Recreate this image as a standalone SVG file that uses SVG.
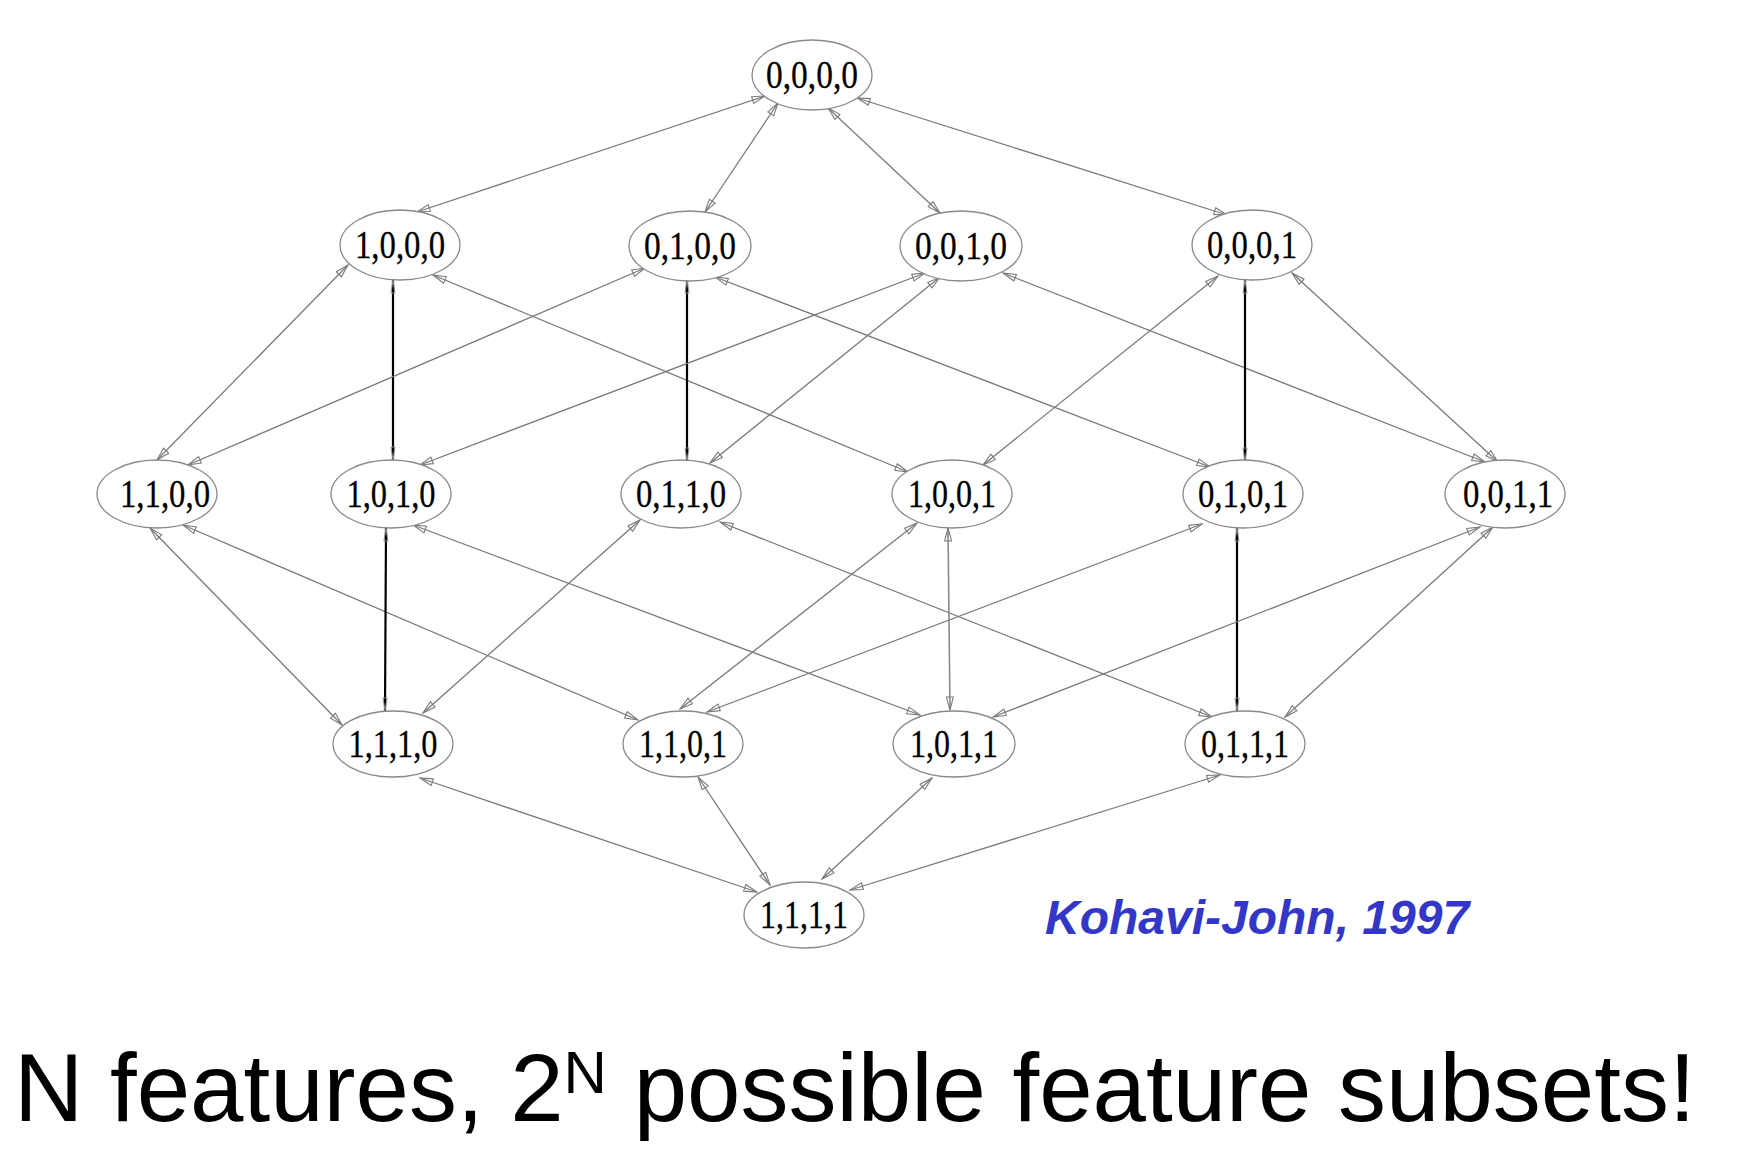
<svg xmlns="http://www.w3.org/2000/svg" width="1758" height="1168" viewBox="0 0 1758 1168">
<style>
.node ellipse{fill:#fff;stroke:#8a8a8a;stroke-width:1.3}
.node text{font-family:"Liberation Serif","Times New Roman",serif;font-size:40px;fill:#000;stroke:#000;stroke-width:0.3;text-anchor:middle}
.e{stroke:#7a7a7a;stroke-width:1.3;fill:none;marker-start:url(#ah);marker-end:url(#ah)}
.k{stroke:#000;stroke-width:2.2;fill:none;marker-start:url(#ahk);marker-end:url(#ahk)}
.g{stroke:#8a8a8a;stroke-width:1.6;fill:none;marker-start:url(#ah);marker-end:url(#ah)}
</style>
<defs>
<marker id="ah" markerUnits="userSpaceOnUse" markerWidth="16" markerHeight="10" viewBox="0 0 16 10" refX="14" refY="5" orient="auto-start-reverse">
<path d="M1,1.5 L14,5 L1,8.5 Z" fill="none" stroke="#7a7a7a" stroke-width="1.1"/>
</marker>
<marker id="ahk" markerUnits="userSpaceOnUse" markerWidth="16" markerHeight="10" viewBox="0 0 16 10" refX="14" refY="5" orient="auto-start-reverse">
<path d="M1,3 L14,5 L1,7 Z" fill="none" stroke="#8a8a8a" stroke-width="1"/>
</marker>
</defs>
<rect width="1758" height="1168" fill="#fff"/>
<g id="connectors">
<line class="e" x1="765" y1="96" x2="417" y2="212"/>
<line class="e" x1="778" y1="103" x2="705" y2="212"/>
<line class="e" x1="828" y1="108" x2="940" y2="213"/>
<line class="e" x1="857" y1="98" x2="1227" y2="215"/>
<line class="e" x1="348" y1="265" x2="157" y2="460"/>
<line class="k" x1="393" y1="280" x2="393" y2="460"/>
<line class="e" x1="433" y1="275" x2="908" y2="472"/>
<line class="e" x1="645" y1="268" x2="188" y2="465"/>
<line class="k" x1="687" y1="280" x2="687" y2="461"/>
<line class="e" x1="715" y1="277" x2="1210" y2="467"/>
<line class="e" x1="925" y1="273" x2="420" y2="465"/>
<line class="e" x1="940" y1="277" x2="710" y2="463"/>
<line class="e" x1="1003" y1="273" x2="1485" y2="462"/>
<line class="e" x1="1218" y1="276" x2="983" y2="465"/>
<line class="k" x1="1245" y1="280" x2="1245" y2="461"/>
<line class="e" x1="1292" y1="273" x2="1498" y2="462"/>
<line class="e" x1="150" y1="528" x2="342" y2="725"/>
<line class="e" x1="183" y1="525" x2="638" y2="720"/>
<line class="k" x1="386" y1="528" x2="385" y2="711"/>
<line class="e" x1="413" y1="525" x2="920" y2="715"/>
<line class="e" x1="640" y1="520" x2="423" y2="713"/>
<line class="e" x1="720" y1="522" x2="1212" y2="717"/>
<line class="e" x1="917" y1="523" x2="680" y2="709"/>
<line class="g" x1="948" y1="528" x2="950" y2="710"/>
<line class="e" x1="1202" y1="524" x2="707" y2="712"/>
<line class="k" x1="1237" y1="528" x2="1237" y2="711"/>
<line class="e" x1="1480" y1="527" x2="993" y2="717"/>
<line class="e" x1="1493" y1="527" x2="1285" y2="717"/>
<line class="e" x1="420" y1="778" x2="757" y2="892"/>
<line class="e" x1="698" y1="777" x2="770" y2="885"/>
<line class="e" x1="932" y1="778" x2="822" y2="879"/>
<line class="e" x1="1220" y1="775" x2="850" y2="890"/>
</g>
<g id="n0000" class="node"><ellipse cx="812" cy="75" rx="60" ry="35"/><text x="812" y="88" textLength="92" lengthAdjust="spacingAndGlyphs">0,0,0,0</text></g>
<g id="n1000" class="node"><ellipse cx="400" cy="245" rx="60" ry="35"/><text x="400" y="258" textLength="90" lengthAdjust="spacingAndGlyphs">1,0,0,0</text></g>
<g id="n0100" class="node"><ellipse cx="690" cy="246" rx="61" ry="35"/><text x="690" y="259" textLength="92" lengthAdjust="spacingAndGlyphs">0,1,0,0</text></g>
<g id="n0010" class="node"><ellipse cx="961" cy="246" rx="61" ry="35"/><text x="961" y="259" textLength="92" lengthAdjust="spacingAndGlyphs">0,0,1,0</text></g>
<g id="n0001" class="node"><ellipse cx="1252" cy="245" rx="60" ry="35"/><text x="1252" y="258" textLength="90" lengthAdjust="spacingAndGlyphs">0,0,0,1</text></g>
<g id="n1100" class="node"><ellipse cx="157" cy="494" rx="60" ry="34"/><text x="165" y="507" textLength="90" lengthAdjust="spacingAndGlyphs">1,1,0,0</text></g>
<g id="n1010" class="node"><ellipse cx="391" cy="494" rx="60" ry="34"/><text x="391" y="507" textLength="89" lengthAdjust="spacingAndGlyphs">1,0,1,0</text></g>
<g id="n0110" class="node"><ellipse cx="681" cy="494" rx="60" ry="34"/><text x="681" y="507" textLength="90" lengthAdjust="spacingAndGlyphs">0,1,1,0</text></g>
<g id="n1001" class="node"><ellipse cx="952" cy="494" rx="60" ry="34"/><text x="952" y="507" textLength="88" lengthAdjust="spacingAndGlyphs">1,0,0,1</text></g>
<g id="n0101" class="node"><ellipse cx="1243" cy="494" rx="60" ry="34"/><text x="1243" y="507" textLength="90" lengthAdjust="spacingAndGlyphs">0,1,0,1</text></g>
<g id="n0011" class="node"><ellipse cx="1505" cy="494" rx="60" ry="34"/><text x="1508" y="507" textLength="90" lengthAdjust="spacingAndGlyphs">0,0,1,1</text></g>
<g id="n1110" class="node"><ellipse cx="393" cy="744" rx="60" ry="33"/><text x="393" y="757" textLength="89" lengthAdjust="spacingAndGlyphs">1,1,1,0</text></g>
<g id="n1101" class="node"><ellipse cx="683" cy="744" rx="60" ry="33"/><text x="683" y="757" textLength="88" lengthAdjust="spacingAndGlyphs">1,1,0,1</text></g>
<g id="n1011" class="node"><ellipse cx="954" cy="744" rx="61" ry="33"/><text x="954" y="757" textLength="88" lengthAdjust="spacingAndGlyphs">1,0,1,1</text></g>
<g id="n0111" class="node"><ellipse cx="1245" cy="744" rx="60" ry="33"/><text x="1245" y="757" textLength="88" lengthAdjust="spacingAndGlyphs">0,1,1,1</text></g>
<g id="n1111" class="node"><ellipse cx="804" cy="915" rx="60" ry="33"/><text x="804" y="928" textLength="88" lengthAdjust="spacingAndGlyphs">1,1,1,1</text></g>
<text x="1045" y="934" font-family="'Liberation Sans',Arial,sans-serif" font-size="48" font-weight="bold" font-style="italic" fill="#3237c6">Kohavi-John, 1997</text>
<text x="14" y="1121" font-family="'Liberation Sans',Arial,sans-serif" font-size="96" fill="#000">N features, 2<tspan font-size="60" dy="-28">N</tspan><tspan dy="28"> possible feature subsets!</tspan></text>
</svg>
